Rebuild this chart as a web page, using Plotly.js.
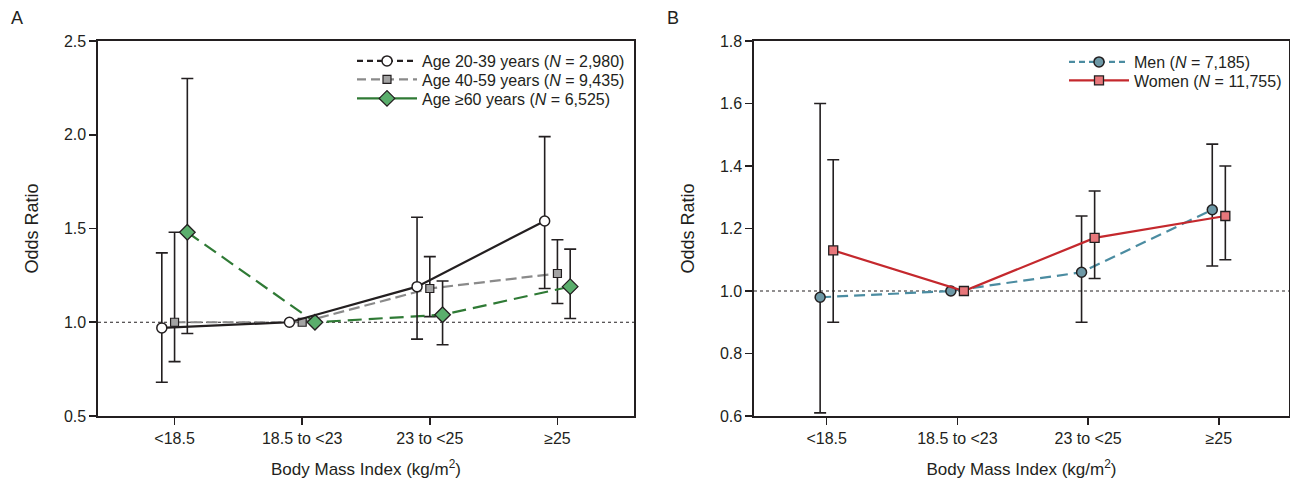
<!DOCTYPE html>
<html>
<head>
<meta charset="utf-8">
<script src="https://cdn.plot.ly/plotly-3.0.1.min.js"></script>
<style>html,body{margin:0;padding:0;background:#fff;}#chart{width:1290px;height:479px;}</style>
</head>
<body>
<div id="chart"></div>
<script>
// ---- data ----
const categories = ['<18.5', '18.5 to <23', '23 to <25', '\u226525'];

const ageYoungOR = [0.97, 1.00, 1.19, 1.54];
const ageYoungLo = [0.68, null, 0.91, 1.18];
const ageYoungHi = [1.37, null, 1.56, 1.99];

const ageMidOR = [1.00, 1.00, 1.18, 1.26];
const ageMidLo = [0.79, null, 1.03, 1.10];
const ageMidHi = [1.48, null, 1.35, 1.44];

const ageOldOR = [1.48, 1.00, 1.04, 1.19];
const ageOldLo = [0.94, null, 0.88, 1.02];
const ageOldHi = [2.30, null, 1.22, 1.39];

const menOR = [0.98, 1.00, 1.06, 1.26];
const menLo = [0.61, null, 0.90, 1.08];
const menHi = [1.60, null, 1.24, 1.47];

const womenOR = [1.13, 1.00, 1.17, 1.24];
const womenLo = [0.90, null, 1.04, 1.10];
const womenHi = [1.42, null, 1.32, 1.40];

const seriesNames = {
  young: 'Age 20-39 years (<i>N</i> = 2,980)',
  mid: 'Age 40-59 years (<i>N</i> = 9,435)',
  old: 'Age \u226560 years (<i>N</i> = 6,525)',
  men: 'Men (<i>N</i> = 7,185)',
  women: 'Women (<i>N</i> = 11,755)'
};

// ---- styling ----
const INK = '#231f20';
const FONT = 'Liberation Sans, Arial, sans-serif';

function errY(or, lo, hi) {
  return {
    type: 'data', symmetric: false, visible: true,
    array: hi.map((h, i) => h == null ? NaN : h - or[i]),
    arrayminus: lo.map((l, i) => l == null ? NaN : or[i] - l),
    color: INK, thickness: 1.6, width: 6
  };
}

function dataTrace(or, lo, hi, offset, xa, ya, line, marker) {
  return {
    x: or.map((_, i) => i + offset), y: or, xaxis: xa, yaxis: ya,
    type: 'scatter', mode: 'lines+markers', showlegend: false, hoverinfo: 'skip',
    line: line, marker: marker, error_y: errY(or, lo, hi), cliponaxis: false
  };
}

function legendTrace(name, xa, ya, legend, line, marker) {
  return {
    x: [null], y: [null], xaxis: xa, yaxis: ya, name: name, legend: legend,
    type: 'scatter', mode: 'lines+markers', showlegend: true, hoverinfo: 'skip',
    line: line, marker: marker
  };
}

const mkYoung = {symbol: 'circle', size: 10, color: '#ffffff', line: {color: INK, width: 1.5}};
const mkMid = {symbol: 'square', size: 8, color: '#a3a3a3', line: {color: INK, width: 1.2}};
const mkOld = {symbol: 'diamond', size: 12, color: '#5aae6c', line: {color: INK, width: 1.3}};
const mkMen = {symbol: 'circle', size: 10, color: '#6d98a6', line: {color: INK, width: 1.5}};
const mkWomen = {symbol: 'square', size: 9, color: '#e8777b', line: {color: INK, width: 1.3}};

const traces = [
  dataTrace(ageMidOR, ageMidLo, ageMidHi, 0, 'x', 'y', {color: '#8a8a8a', width: 2.2, dash: '11px,5px'}, mkMid),
  dataTrace(ageOldOR, ageOldLo, ageOldHi, 0.1, 'x', 'y', {color: '#2f7a35', width: 2.2, dash: '14px,7px'}, mkOld),
  dataTrace(ageYoungOR, ageYoungLo, ageYoungHi, -0.1, 'x', 'y', {color: INK, width: 2.2, dash: 'solid'}, mkYoung),
  dataTrace(menOR, menLo, menHi, -0.05, 'x2', 'y2', {color: '#4b8ca1', width: 2.2, dash: '11px,6px'}, mkMen),
  dataTrace(womenOR, womenLo, womenHi, 0.05, 'x2', 'y2', {color: '#c4282d', width: 2.2, dash: 'solid'}, mkWomen),
  legendTrace(seriesNames.young, 'x', 'y', 'legend', {color: INK, width: 2.2, dash: '6px,4px'}, mkYoung),
  legendTrace(seriesNames.mid, 'x', 'y', 'legend3', {color: '#8a8a8a', width: 2.2, dash: '9px,5px'}, mkMid),
  legendTrace(seriesNames.old, 'x', 'y', 'legend4', {color: '#2f7a35', width: 2.2, dash: 'solid'}, mkOld),
  legendTrace(seriesNames.men, 'x2', 'y2', 'legend2', {color: '#4b8ca1', width: 2.2, dash: '6px,4px'}, mkMen),
  legendTrace(seriesNames.women, 'x2', 'y2', 'legend5', {color: '#c4282d', width: 2.2, dash: 'solid'}, mkWomen)
];

const W = 1290;
const PLOT_TOP = 41, PLOT_BOTTOM = 416;
function rowY(px) { return (PLOT_BOTTOM - px) / (PLOT_BOTTOM - PLOT_TOP); }

function xAxis(domain, range) {
  return {
    domain: domain, range: range, tickmode: 'array',
    tickvals: categories.map((_, i) => i), ticktext: categories,
    showline: true, mirror: true, linecolor: INK, linewidth: 1.6,
    ticks: 'outside', ticklen: 7, tickwidth: 1.6, tickcolor: INK,
    showgrid: false, zeroline: false, fixedrange: true,
    tickfont: {family: FONT, size: 16, color: INK},
    title: {text: 'Body Mass Index (kg/m<sup>2</sup>)', font: {family: FONT, size: 17, color: INK}, standoff: 21}
  };
}
function yAxis(range, dtick, anchor) {
  return {
    range: range, dtick: dtick, tick0: 0, tickformat: '.1f', anchor: anchor,
    showline: true, mirror: true, linecolor: INK, linewidth: 1.6,
    ticks: 'outside', ticklen: 7, tickwidth: 1.6, tickcolor: INK,
    showgrid: false, zeroline: false, fixedrange: true,
    tickfont: {family: FONT, size: 16, color: INK},
    title: {text: 'Odds Ratio', font: {family: FONT, size: 18, color: INK}, standoff: 20}
  };
}
function legendAt(xpx, ypx) {
  return {x: xpx / W, y: rowY(ypx), xanchor: 'left', yanchor: 'middle', bgcolor: 'rgba(0,0,0,0)',
          font: {family: FONT, size: 16, color: INK}, itemwidth: 60};
}

const layout = {
  width: 1290, height: 479,
  margin: {l: 0, r: 0, t: 41, b: 63},
  paper_bgcolor: '#ffffff', plot_bgcolor: '#ffffff',
  font: {family: FONT, color: INK},
  xaxis: xAxis([98 / W, 634 / W], [-0.6, 3.6]),
  yaxis: yAxis([0.5, 2.5], 0.5, 'x'),
  xaxis2: xAxis([754 / W, 1289 / W], [-0.556, 3.537]),
  yaxis2: yAxis([0.6, 1.8], 0.2, 'x2'),
  showlegend: true,
  legend: legendAt(352, 61),
  legend3: legendAt(352, 79.5),
  legend4: legendAt(352, 98.5),
  legend2: legendAt(1064, 62),
  legend5: legendAt(1064, 80.5),
  shapes: [
    {type: 'line', xref: 'x domain', yref: 'y', x0: 0, x1: 1, y0: 1, y1: 1, line: {color: INK, width: 1, dash: 'dot'}, layer: 'below'},
    {type: 'line', xref: 'x2 domain', yref: 'y2', x0: 0, x1: 1, y0: 1, y1: 1, line: {color: INK, width: 1, dash: 'dot'}, layer: 'below'}
  ],
  annotations: [
    {text: 'A', xref: 'paper', yref: 'paper', x: 9 / W, y: 1.062, xanchor: 'left', yanchor: 'middle', showarrow: false, font: {family: FONT, size: 18, color: INK}},
    {text: 'B', xref: 'paper', yref: 'paper', x: 665 / W, y: 1.062, xanchor: 'left', yanchor: 'middle', showarrow: false, font: {family: FONT, size: 18, color: INK}}
  ]
};

Plotly.newPlot('chart', traces, layout, {staticPlot: true, displayModeBar: false});
</script>
</body>
</html>
